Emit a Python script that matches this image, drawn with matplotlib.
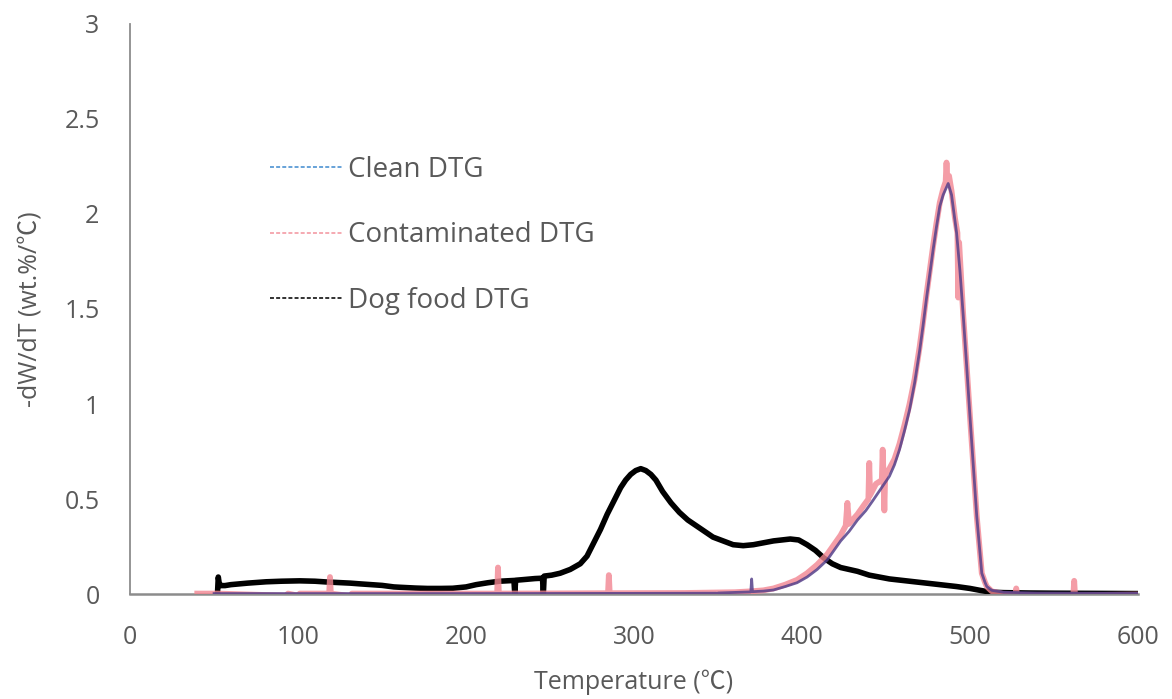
import matplotlib
matplotlib.use("Agg")
import matplotlib.pyplot as plt
from matplotlib.lines import Line2D

plt.rcParams['font.family'] = ['Open Sans', 'Noto Sans CJK SC', 'DejaVu Sans']

# Dog food DTG (-dW/dT, wt.%/°C) versus temperature (°C)
dog_T = [52.0, 52.5, 53.0, 54.0, 56.5, 60, 70, 81, 90, 101, 110, 117, 131, 137,
         150, 157, 161, 170, 177, 185, 192, 200, 206, 213, 220, 228.5, 229.0, 229.5,
         236, 241, 245.5, 246.0, 246.5, 251, 256, 262, 268, 272, 276, 280, 284,
         288, 292, 295, 298, 301, 304, 307, 310, 313, 317, 322, 327, 332, 337, 342,
         347, 353, 359, 365, 371, 377, 383, 388, 393, 398, 403, 408, 413, 418, 423,
         428, 433, 440, 452, 462, 472, 482, 492, 500, 506, 510, 514, 520, 535, 550,
         575, 600]
dog_v = [0.0, 0.09, 0.06, 0.045, 0.045, 0.05, 0.058, 0.065, 0.068, 0.07, 0.068, 0.064, 0.058, 0.054,
         0.046, 0.038, 0.036, 0.032, 0.03, 0.03, 0.031, 0.038, 0.05, 0.06, 0.068, 0.072, 0.0, 0.073,
         0.078, 0.082, 0.084, 0.0, 0.095, 0.1, 0.11, 0.13, 0.16, 0.2, 0.27, 0.34, 0.42,
         0.49, 0.56, 0.6, 0.63, 0.65, 0.66, 0.65, 0.63, 0.6, 0.54, 0.48, 0.43, 0.39, 0.36, 0.33,
         0.30, 0.28, 0.26, 0.255, 0.26, 0.27, 0.28, 0.285, 0.29, 0.285, 0.26, 0.23, 0.19, 0.16, 0.14,
         0.13, 0.12, 0.10, 0.08, 0.07, 0.06, 0.05, 0.04, 0.03, 0.02, 0.014, 0.01, 0.008, 0.006, 0.005,
         0.004, 0.003]

# Clean sample DTG
clean_T = [50, 100, 200, 300, 349, 349.5, 350, 369.5, 370, 370.5, 377, 383, 390, 397, 403,
           409, 415, 419, 423, 428, 433, 438, 442, 447, 452, 455, 458, 461, 464, 467,
           470, 472, 474, 476, 478, 480, 482, 484, 486, 487, 489, 492, 494, 496, 498,
           500, 502, 504, 506, 507, 509, 510, 513, 520, 540, 600]
clean_v = [0.003, 0.003, 0.003, 0.004, 0.005, 0.0, 0.006, 0.012, 0.08, 0.013, 0.016, 0.022, 0.04, 0.06, 0.09,
           0.13, 0.18, 0.23, 0.28, 0.33, 0.39, 0.44, 0.49, 0.555, 0.62, 0.68, 0.76, 0.86, 0.97, 1.11,
           1.28, 1.41, 1.55, 1.68, 1.81, 1.93, 2.04, 2.10, 2.14, 2.16, 2.10, 1.90, 1.70, 1.46, 1.20,
           0.93, 0.67, 0.41, 0.21, 0.11, 0.06, 0.04, 0.02, 0.01, 0.006, 0.004]

# Contaminated sample DTG (noisier trace)
cont_T = [40, 52, 93, 94, 100, 101, 118.5, 119, 119.5, 131, 132, 170, 218.5, 219, 219.5, 260,
          284.5, 285, 285.5, 330, 360, 370, 377, 383, 390, 397, 403, 409, 415, 419, 423,
          426, 427, 428, 433, 437, 439.5, 440, 440.5, 444, 447.5, 448, 448.5, 449, 449.5,
          452, 455, 458, 461, 464, 467, 470, 472, 474, 476, 478, 480, 482, 484, 485.5,
          486, 486.5, 487.5, 489, 491, 492.5, 493, 493.5, 496, 498, 500, 502, 504, 506, 507,
          509, 510, 513, 520, 527, 527.5, 528, 540, 561.5, 562, 562.5, 580, 600]
cont_v = [0.003, 0.003, -0.008, 0.003, -0.008, 0.003, 0.003, 0.09, 0.003, -0.01, 0.003, 0.003, 0.003, 0.14, 0.003, 0.004,
          0.005, 0.10, 0.005, 0.006, 0.01, 0.015, 0.02, 0.03, 0.05, 0.075, 0.11, 0.155, 0.21, 0.26, 0.31,
          0.36, 0.48, 0.37, 0.42, 0.47, 0.50, 0.69, 0.52, 0.58, 0.60, 0.76, 0.62, 0.44, 0.63,
          0.66, 0.71, 0.79, 0.89, 1.0, 1.13, 1.30, 1.43, 1.57, 1.70, 1.83, 1.95, 2.06, 2.13, 2.17,
          2.27, 2.18, 2.20, 2.12, 1.98, 1.90, 1.56, 1.85, 1.46, 1.20, 0.93, 0.67, 0.41, 0.21, 0.11,
          0.06, 0.04, 0.015, 0.0, -0.004, 0.03, -0.004, -0.006, -0.006, 0.07, -0.006, -0.004, -0.002]

x_ticks = [0, 100, 200, 300, 400, 500, 600]
y_ticks = [0, 0.5, 1, 1.5, 2, 2.5, 3]
y_tick_labels = ['0', '0.5', '1', '1.5', '2', '2.5', '3']
series_labels = ['Clean DTG', 'Contaminated DTG', 'Dog food DTG']

text_color = '#595959'
axis_color = '#8c8c8c'

fig = plt.figure(figsize=(11.72, 6.99), dpi=100)
ax = fig.add_axes([0.111, 0.150, 0.860, 0.816])

ax.plot(dog_T, dog_v, color='black', lw=4.0, solid_joinstyle='round', zorder=2)
ax.plot(cont_T, cont_v, color='#f28591', lw=4.2, alpha=0.8, zorder=3)
ax.plot(clean_T, clean_v, color='#55408a', lw=2.0, alpha=0.85, zorder=4)

ax.set_xlim(0, 600)
ax.set_ylim(0, 3)
ax.set_xticks(x_ticks)
ax.set_yticks(y_ticks)
ax.set_yticklabels(y_tick_labels)

for side in ('top', 'right'):
    ax.spines[side].set_visible(False)
ax.spines['left'].set_color(axis_color)
ax.spines['left'].set_linewidth(1.3)
ax.spines['bottom'].set_color(axis_color)
ax.spines['bottom'].set_linewidth(1.8)
ax.spines['left'].set_zorder(1)
ax.spines['bottom'].set_zorder(1)

ax.tick_params(axis='both', length=0, labelsize=18, colors=text_color)
ax.tick_params(axis='y', pad=22)
ax.tick_params(axis='x', pad=22)

ax.set_xlabel('Temperature (℃)', fontsize=18, color=text_color, labelpad=14)
ax.set_ylabel('-dW/dT (wt.%/℃)', fontsize=18, color=text_color, labelpad=16)

handles = [
    Line2D([], [], color='#5b9bd5', lw=1.3, ls=(0, (2.2, 1.2))),
    Line2D([], [], color='#f4a3ab', lw=1.3, ls=(0, (2.2, 1.2))),
    Line2D([], [], color='#222222', lw=1.3, ls=(0, (2.2, 1.2))),
]
ax.legend(handles, series_labels, loc='upper left', bbox_to_anchor=(0.139, 0.768),
          frameon=False, fontsize=20, labelcolor=text_color, handlelength=2.6,
          handletextpad=0.2, labelspacing=1.34, borderpad=0, borderaxespad=0)

fig.savefig('out.png', dpi=100, facecolor='white')
